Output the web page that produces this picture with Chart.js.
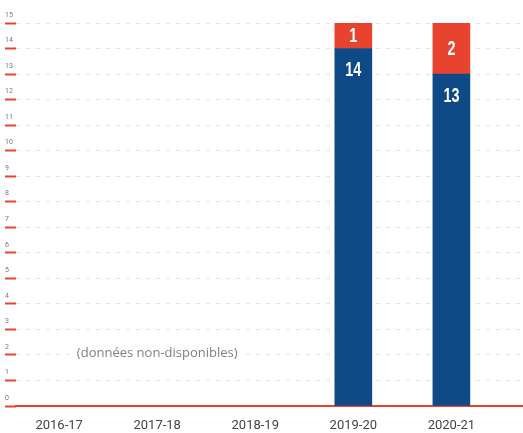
<!DOCTYPE html>
<html>
<head>
<meta charset="utf-8">
<script src="https://cdn.jsdelivr.net/npm/chart.js@4"></script>
<style>
  html, body { margin: 0; padding: 0; background: #fff; }
  #wrap { width: 523px; height: 433px; }
</style>
</head>
<body>
<div id="wrap"><canvas id="graphic-seances"></canvas></div>
<script>
const categories = ['2016-17', '2017-18', '2018-19', '2019-20', '2020-21'];
const valeursBleu = [null, null, null, 14, 13];
const valeursRouge = [null, null, null, 1, 2];
const yMin = 0;
const yMax = 15;
const noteTexte = '(données non-disponibles)';
const noteCategorie = 1;
const noteValeur = 2;

const bleu = '#0d4a86';
const rouge = '#e8432f';

function points(values) {
    return values.map(function(v, i) { return { x: i, y: v }; });
}

// etiquettes blanches dans les barres (police condensee)
const etiquettes = {
    id: 'etiquettes',
    afterDatasetsDraw(chart) {
        const ctx = chart.ctx;
        chart.data.datasets.forEach(function(ds, di) {
            const meta = chart.getDatasetMeta(di);
            meta.data.forEach(function(bar, i) {
                const v = ds.data[i].y;
                if (v === null) return;
                const p = bar.getProps(['x', 'y', 'base'], true);
                const y = di === 0 ? p.y + 21 : (p.y + p.base) / 2;
                ctx.save();
                ctx.translate(p.x, y);
                ctx.scale(0.72, 1);
                ctx.fillStyle = '#fff';
                ctx.textAlign = 'center';
                ctx.textBaseline = 'middle';
                ctx.font = 'bold 20px "Liberation Sans", sans-serif';
                ctx.fillText(String(v), 0, 1);
                ctx.restore();
            });
        });
    }
};

// note "(données non-disponibles)"
const note = {
    id: 'note',
    afterDraw(chart) {
        const ctx = chart.ctx;
        const x = chart.scales.x.getPixelForValue(noteCategorie);
        const y = chart.scales.y.getPixelForValue(noteValeur) - 2;
        ctx.save();
        ctx.font = '13px "Open Sans", sans-serif';
        const w = ctx.measureText(noteTexte).width;
        ctx.fillStyle = '#fff';
        ctx.fillRect(x - w / 2 - 8, y - 10, w + 16, 20);
        ctx.fillStyle = '#808080';
        ctx.textAlign = 'center';
        ctx.textBaseline = 'middle';
        ctx.fillText(noteTexte, x, y);
        ctx.restore();
    }
};

new Chart(document.getElementById('graphic-seances'), {
    type: 'bar',
    data: {
        datasets: [{
            data: points(valeursBleu),
            backgroundColor: bleu,
            barThickness: 37
        }, {
            data: points(valeursRouge),
            backgroundColor: rouge,
            barThickness: 37
        }]
    },
    options: {
        responsive: true,
        maintainAspectRatio: false,
        animation: false,
        layout: {
            padding: { left: 5, top: 23, right: 1, bottom: 0 }
        },
        scales: {
            x: {
                type: 'linear',
                stacked: true,
                offset: false,
                min: -0.44,
                max: 4.72,
                afterBuildTicks: function(scale) {
                    scale.ticks = categories.map(function(c, i) { return { value: i }; });
                },
                afterFit: function(scale) { scale.height = 27; },
                grid: { display: false, drawTicks: false, offset: false },
                border: { display: true, color: rouge, width: 2 },
                ticks: {
                    padding: 12,
                    color: '#444',
                    font: { family: 'Roboto', size: 13 },
                    maxRotation: 0,
                    autoSkip: false,
                    callback: function(value) {
                        return categories[value] || '';
                    }
                }
            },
            y: {
                stacked: true,
                min: yMin,
                max: yMax,
                afterFit: function(scale) { scale.width = 11; },
                grid: {
                    color: '#e4e4e4',
                    lineWidth: 1,
                    tickLength: 11,
                    tickColor: rouge,
                    tickWidth: 2
                },
                border: { display: false, dash: [4, 6] },
                ticks: {
                    stepSize: 1,
                    padding: 0,
                    crossAlign: 'far',
                    labelOffset: -8,
                    color: '#777',
                    font: { family: 'Roboto', size: 7 }
                }
            }
        },
        plugins: {
            legend: { display: false },
            tooltip: { enabled: false }
        }
    },
    plugins: [etiquettes, note]
});
</script>
</body>
</html>
